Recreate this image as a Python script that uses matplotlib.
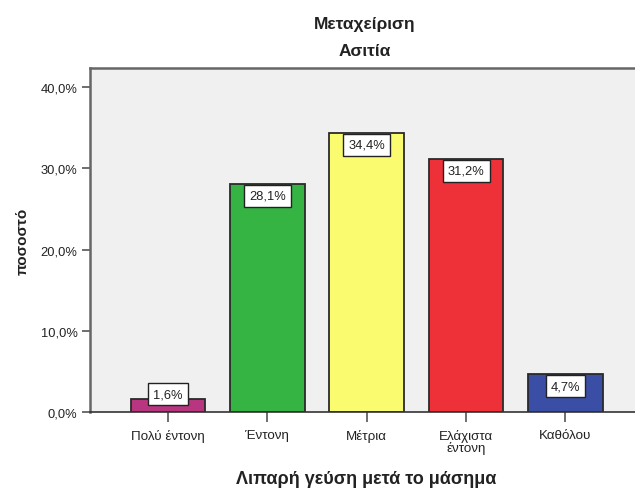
import matplotlib
matplotlib.use("Agg")
from matplotlib import pyplot as plt

plt.rcParams['font.family'] = ['Liberation Sans', 'DejaVu Sans']

# data
categories = ['Πολύ έντονη', 'Έντονη', 'Μέτρια', 'Ελάχιστα\nέντονη', 'Καθόλου']
values = [1.6, 28.1, 34.4, 31.2, 4.7]
colors = ['#b8357f', '#35b444', '#fbfb70', '#ee3038', '#3a4ea6']
y_ticks = [0, 10, 20, 30, 40]

fig = plt.figure(figsize=(6.35, 4.89), dpi=100)
ax = fig.add_axes([90 / 635, 76 / 489, 545 / 635, 344 / 489])
ax.set_facecolor('#f0f0f0')

x = list(range(len(categories)))
ax.bar(x, values, width=0.75, color=colors, edgecolor='#2a2a2a', linewidth=1.3, zorder=2)

# value labels in white boxes at top of bars
for xi, v in zip(x, values):
    ypos = max(v - 1.5, 2.2)
    ax.text(xi, ypos, ('%.1f%%' % v).replace('.', ','), ha='center', va='center',
            fontsize=9.3, color='#222222', zorder=3,
            bbox=dict(boxstyle='square,pad=0.4', fc='white', ec='#222222', lw=1.0))

ax.set_xlim(-0.785, 4.70)
ax.set_ylim(0, 42.34)
ax.set_xticks(x)
ax.set_xticklabels(categories, fontsize=9.6, color='#222222', linespacing=0.95)
ax.set_yticks(y_ticks)
ax.set_yticklabels([('%.1f%%' % t).replace('.', ',') for t in y_ticks], fontsize=9.3, color='#222222')
ax.tick_params(axis='x', length=7, width=1.2, color='#555555', pad=5)
ax.tick_params(axis='y', length=6, width=1.2, color='#555555', pad=3)

for s in ['top', 'left', 'bottom']:
    ax.spines[s].set_color('#666666')
    ax.spines[s].set_linewidth(1.8)
ax.spines['right'].set_visible(False)
ax.spines['bottom'].set_color('#333333')
ax.spines['bottom'].set_linewidth(1.2)

ax.set_ylabel('ποσοστό', fontsize=11, fontweight='bold', color='#222222', labelpad=8)
fig.text(366 / 635, 1 - 480 / 489, 'Λιπαρή γεύση μετά το μάσημα', ha='center', va='center',
         fontsize=13, fontweight='bold', color='#222222')

fig.text(365 / 635, 1 - 25 / 489, 'Μεταχείριση', ha='center', va='center',
         fontsize=12.5, fontweight='bold', color='#222222')
fig.text(365 / 635, 1 - 52 / 489, 'Ασιτία', ha='center', va='center',
         fontsize=12.5, fontweight='bold', color='#222222')

fig.savefig('out.png', dpi=100, facecolor='white')
